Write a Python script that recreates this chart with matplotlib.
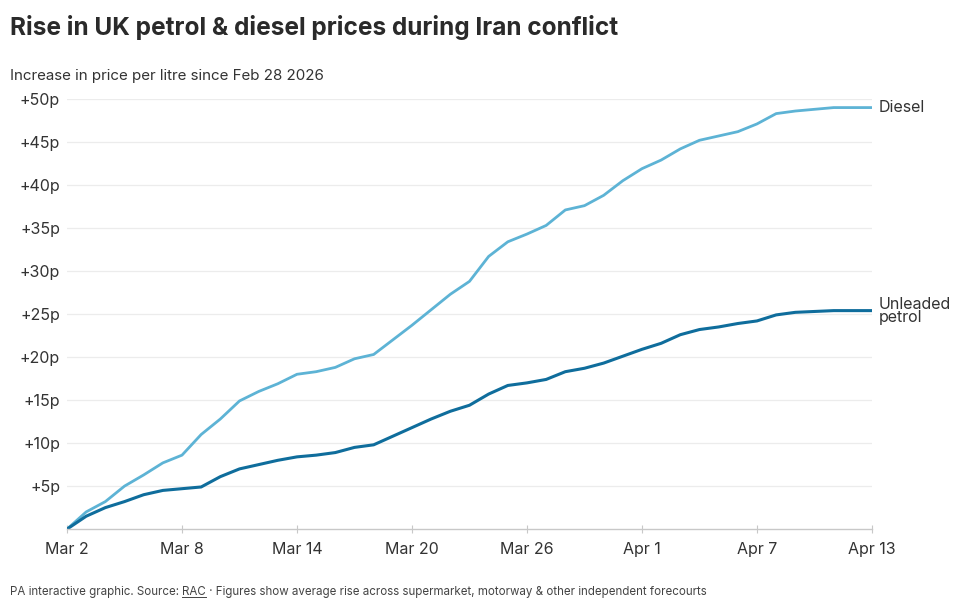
import matplotlib
matplotlib.use("Agg")
import matplotlib.pyplot as plt
import matplotlib.dates as mdates
from matplotlib.lines import Line2D
import numpy as np
import pandas as pd

# daily rise in price per litre (pence) since Feb 28 2026
dates = pd.date_range("2026-03-02", "2026-04-13", freq="D")
diesel = [0.0, 2.0, 3.2, 5.0, 6.3, 7.7, 8.6, 11.0, 12.8, 14.9, 16.0, 16.9, 18.0, 18.3,
          18.8, 19.8, 20.3, 22.0, 23.7, 25.5, 27.3, 28.8, 31.7, 33.4, 34.3, 35.3, 37.1,
          37.6, 38.8, 40.5, 41.9, 42.9, 44.2, 45.2, 45.7, 46.2, 47.1, 48.3, 48.6, 48.8,
          49.0, 49.0, 49.0]
petrol = [0.0, 1.5, 2.5, 3.2, 4.0, 4.5, 4.7, 4.9, 6.1, 7.0, 7.5, 8.0, 8.4, 8.6,
          8.9, 9.5, 9.8, 10.8, 11.8, 12.8, 13.7, 14.4, 15.7, 16.7, 17.0, 17.4, 18.3,
          18.7, 19.3, 20.1, 20.9, 21.6, 22.6, 23.2, 23.5, 23.9, 24.2, 24.9, 25.2, 25.3,
          25.4, 25.4, 25.4]
y_ticks = [5, 10, 15, 20, 25, 30, 35, 40, 45, 50]
x_ticks = ["2026-03-02", "2026-03-08", "2026-03-14", "2026-03-20", "2026-03-26",
           "2026-04-01", "2026-04-07", "2026-04-13"]

plt.rcParams["font.family"] = ["Inter", "DejaVu Sans"]
text_col = "#333333"

fig = plt.figure(figsize=(9.6, 6.11), dpi=100)
ax = fig.add_axes([0.0698, 0.134, 0.9083 - 0.0698, 0.838 - 0.134])

ax.plot(dates, diesel, color="#5db3d5", lw=2.0, solid_joinstyle="round")
ax.plot(dates, petrol, color="#0f6d9c", lw=2.2, solid_joinstyle="round")

ax.set_xlim(dates[0], dates[-1])
ax.set_ylim(0, 50)
ax.set_yticks(y_ticks)
ax.set_yticklabels(["+%dp" % v for v in y_ticks])
ax.set_xticks(pd.to_datetime(x_ticks))
ax.xaxis.set_major_formatter(mdates.DateFormatter("%b %-d"))

ax.grid(axis="y", color="#ececec", lw=0.9)
ax.set_axisbelow(True)
for s in ["top", "right", "left"]:
    ax.spines[s].set_visible(False)
ax.spines["bottom"].set_color("#c8c8c8")
ax.spines["bottom"].set_linewidth(1.0)
ax.tick_params(axis="y", length=0, pad=5, labelsize=11.5, labelcolor=text_col)
ax.tick_params(axis="x", length=6, width=0.8, color="#c8c8c8", direction="inout",
               pad=6, labelsize=11.5, labelcolor=text_col)

ax.text(dates[-1] + pd.Timedelta(hours=8), diesel[-1], "Diesel", va="center", ha="left",
        fontsize=11.5, color=text_col)
ax.text(dates[-1] + pd.Timedelta(hours=8), petrol[-1], "Unleaded\npetrol", va="center",
        ha="left", fontsize=11.5, color=text_col, linespacing=0.85)

fig.text(10 / 960, 1 - 27 / 611, "Rise in UK petrol & diesel prices during Iran conflict",
         fontsize=17.6, fontweight="bold", color="#2a2a2a", va="center", ha="left")
fig.text(10 / 960, 1 - 76 / 611, "Increase in price per litre since Feb 28 2026",
         fontsize=10.9, color=text_col, va="center", ha="left")

# footer, in pieces so "RAC" can be underlined
renderer = fig.canvas.get_renderer()
foot_y = 1 - 592 / 611
parts = ["PA interactive graphic. Source: ", "RAC",
         " \u00b7 Figures show average rise across supermarket, motorway & other "
         "independent forecourts"]
x = 10 / 960
for i, p in enumerate(parts):
    t = fig.text(x, foot_y, p, fontsize=8.3, color="#444444", va="center", ha="left")
    bb = t.get_window_extent(renderer).transformed(fig.transFigure.inverted())
    if i == 1:
        fig.add_artist(Line2D([bb.x0, bb.x1], [bb.y0 + 0.001, bb.y0 + 0.001],
                              transform=fig.transFigure, color="#444444", lw=0.7))
    x = bb.x1

fig.savefig("out.png", dpi=100, facecolor="white")
